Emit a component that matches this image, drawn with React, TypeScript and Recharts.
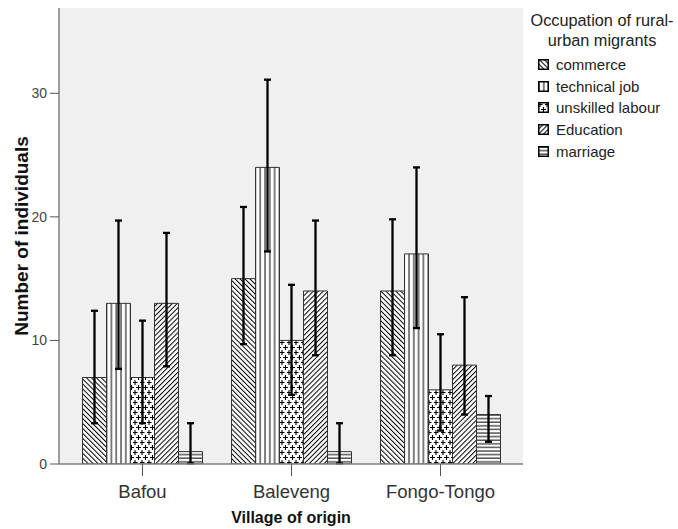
import React from 'react';
import { BarChart, Bar, XAxis, YAxis, CartesianGrid, ErrorBar, Label } from 'recharts';

const categories = ['Bafou', 'Baleveng', 'Fongo-Tongo'];
const seriesNames = ['commerce', 'technical job', 'unskilled labour', 'Education', 'marriage'];
const patternIds = ['pCommerce', 'pTechnical', 'pUnskilled', 'pEducation', 'pMarriage'];

const commerce = [7, 15, 14];
const commerceLow = [3.3, 9.7, 8.8];
const commerceHigh = [12.4, 20.8, 19.8];

const technical = [13, 24, 17];
const technicalLow = [7.7, 17.2, 11.0];
const technicalHigh = [19.7, 31.1, 24.0];

const unskilled = [7, 10, 6];
const unskilledLow = [3.3, 5.6, 2.7];
const unskilledHigh = [11.6, 14.5, 10.5];

const education = [13, 14, 8];
const educationLow = [7.9, 8.8, 4.0];
const educationHigh = [18.7, 19.7, 13.5];

const marriage = [1, 1, 4];
const marriageLow = [0.05, 0.05, 1.8];
const marriageHigh = [3.3, 3.3, 5.5];

const yTicks = [0, 10, 20, 30];

const means = [commerce, technical, unskilled, education, marriage];
const lows = [commerceLow, technicalLow, unskilledLow, educationLow, marriageLow];
const highs = [commerceHigh, technicalHigh, unskilledHigh, educationHigh, marriageHigh];

const data = categories.map((cat, i) => {
  const row: any = { cat };
  means.forEach((m, s) => {
    row['s' + s] = m[i];
    row['e' + s] = [m[i] - lows[s][i], highs[s][i] - m[i]];
  });
  return row;
});

const FONT = '"Liberation Sans", Arial, sans-serif';

function Patterns() {
  return (
    <svg width={0} height={0} style={{ position: 'absolute' }}>
      <defs>
        <pattern id="pCommerce" patternUnits="userSpaceOnUse" width={3.5} height={10} patternTransform="rotate(-45)">
          <rect width={3.5} height={10} fill="#fff" />
          <line x1={0.5} y1={0} x2={0.5} y2={10} stroke="#000" strokeWidth={1} />
        </pattern>
        <pattern id="pEducation" patternUnits="userSpaceOnUse" width={3.5} height={10} patternTransform="rotate(45)">
          <rect width={3.5} height={10} fill="#fff" />
          <line x1={0.5} y1={0} x2={0.5} y2={10} stroke="#000" strokeWidth={1} />
        </pattern>
        <pattern id="pTechnical" patternUnits="userSpaceOnUse" width={4.8} height={10}>
          <rect width={4.8} height={10} fill="#fff" />
          <line x1={1} y1={0} x2={1} y2={10} stroke="#000" strokeWidth={1} />
        </pattern>
        <pattern id="pMarriage" patternUnits="userSpaceOnUse" width={10} height={3.6}>
          <rect width={10} height={3.6} fill="#fff" />
          <line x1={0} y1={1} x2={10} y2={1} stroke="#000" strokeWidth={1} />
        </pattern>
        <pattern id="pUnskilled" patternUnits="userSpaceOnUse" width={7} height={10}>
          <rect width={7} height={10} fill="#fff" />
          <path d="M2,0 V5 M-0.5,2.5 H4.5 M5.5,5 V10 M3,7.5 H8 M-1.5,7.5 H1" stroke="#000" strokeWidth={1.1} />
        </pattern>
      </defs>
    </svg>
  );
}

function LegendBox() {
  return (
    <div style={{ position: 'absolute', left: 526, top: 10, width: 152, fontFamily: FONT, color: '#222' }}>
      <div style={{ textAlign: 'center', fontSize: 16.3, lineHeight: '20px', whiteSpace: 'nowrap' }}>
        Occupation of rural-<br />urban migrants
      </div>
      <div style={{ marginTop: 4 }}>
        {seriesNames.map((name, i) => (
          <div key={name} style={{ display: 'flex', alignItems: 'center', height: 21.6, paddingLeft: 12, fontSize: 15, whiteSpace: 'nowrap' }}>
            <svg width={11} height={11} style={{ marginRight: 7, flexShrink: 0 }}>
              <rect x={0.75} y={0.75} width={9.5} height={9.5} fill={`url(#${patternIds[i]})`} stroke="#000" strokeWidth={1.5} />
            </svg>
            <span>{name}</span>
          </div>
        ))}
      </div>
    </div>
  );
}

export default function App() {
  return (
    <div style={{ position: 'absolute', left: 0, top: 0, width: 678, height: 529, background: '#fff', overflow: 'hidden' }}>
      <Patterns />
      <BarChart
        width={678}
        height={529}
        data={data}
        margin={{ top: 8, right: 155, bottom: 0, left: 0 }}
        barCategoryGap={14.5}
        barGap={0}
      >
        <CartesianGrid horizontal={false} vertical={false} fill="#f0f0f0" />
        <XAxis
          dataKey="cat"
          padding={{ left: 9, right: 8 }}
          height={65}
          tickSize={12}
          tickMargin={9}
          tick={{ fill: '#333', fontSize: 18.5, fontFamily: FONT }}
          tickLine={{ stroke: '#555' }}
          axisLine={{ stroke: '#808080', strokeWidth: 1.5 }}
        >
          <Label
            content={(p: any) => {
              const vb = p.viewBox;
              return (
                <text x={vb.x + vb.width / 2} y={vb.y + 53} textAnchor="middle" dominantBaseline="central"
                  style={{ fontFamily: FONT, fontSize: 16, fontWeight: 'bold', fill: '#111' }}>
                  Village of origin
                </text>
              );
            }}
          />
        </XAxis>
        <XAxis xAxisId="top" dataKey="cat" orientation="top" height={0} tick={false} tickLine={false}
          axisLine={{ stroke: '#808080', strokeWidth: 1.5 }} />
        <YAxis
          domain={[0, 36.9]}
          ticks={yTicks}
          width={59}
          tickSize={9}
          tickMargin={3}
          tick={{ fill: '#444', fontSize: 14, fontFamily: FONT }}
          tickLine={{ stroke: '#555' }}
          axisLine={{ stroke: '#808080', strokeWidth: 1.5 }}
          allowDataOverflow
        >
          <Label
            content={(p: any) => {
              const vb = p.viewBox;
              const cx = vb.x + 21;
              const cy = vb.y + vb.height / 2;
              return (
                <text x={cx} y={cy} transform={`rotate(-90 ${cx} ${cy})`} textAnchor="middle" dominantBaseline="central"
                  style={{ fontFamily: FONT, fontSize: 19, fontWeight: 'bold', fill: '#111' }}>
                  Number of individuals
                </text>
              );
            }}
          />
        </YAxis>
        <YAxis yAxisId="right" orientation="right" width={0} domain={[0, 36.9]} tick={false} tickLine={false}
          axisLine={{ stroke: '#808080', strokeWidth: 1.5 }} />
        {seriesNames.map((name, s) => (
          <Bar key={name} dataKey={'s' + s} name={name} fill={`url(#${patternIds[s]})`} stroke="#333" strokeWidth={1}
            isAnimationActive={false}>
            <ErrorBar dataKey={'e' + s} width={3.5} strokeWidth={2.3} stroke="#000" isAnimationActive={false} />
          </Bar>
        ))}
      </BarChart>
      <LegendBox />
    </div>
  );
}
